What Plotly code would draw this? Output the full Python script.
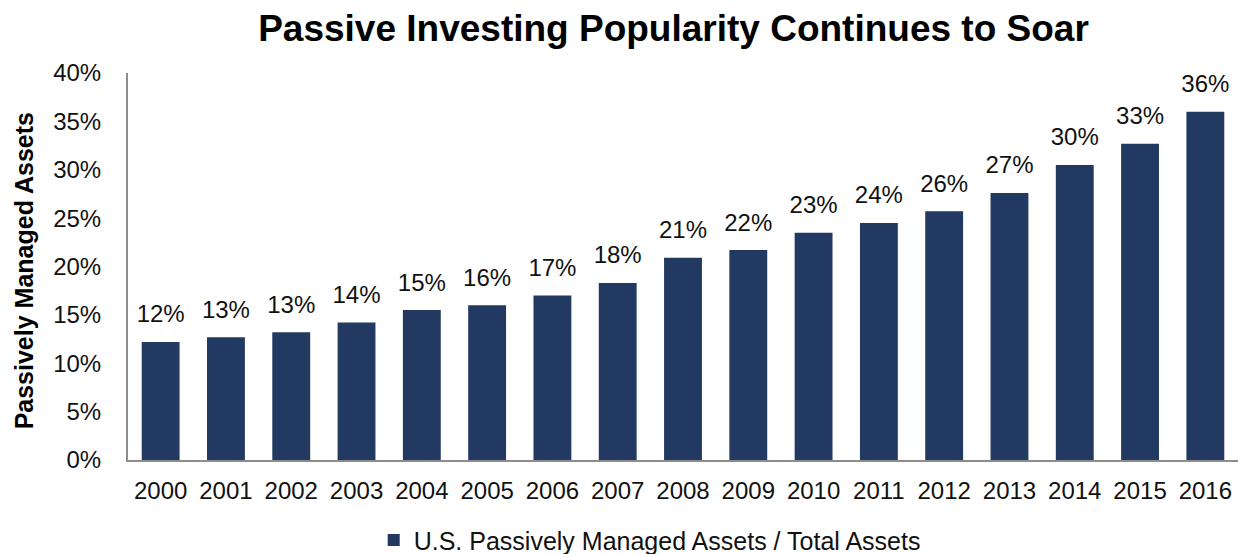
import plotly.graph_objects as go

years = [str(y) for y in range(2000, 2017)]
values = [12.2, 12.7, 13.2, 14.2, 15.5, 16.0, 17.0, 18.3, 20.9, 21.7, 23.5, 24.5, 25.7, 27.6, 30.5, 32.7, 36.0]
labels = ["12%", "13%", "13%", "14%", "15%", "16%", "17%", "18%", "21%", "22%", "23%", "24%", "26%", "27%", "30%", "33%", "36%"]
y_ticks = [0, 5, 10, 15, 20, 25, 30, 35, 40]
y_tick_text = ["0%", "5%", "10%", "15%", "20%", "25%", "30%", "35%", "40%"]

BAR = "#223962"
FONT = "Liberation Sans, Arial, sans-serif"

fig = go.Figure()
fig.add_trace(go.Bar(
    x=years, y=values, marker=dict(color=BAR, line=dict(width=0)),
    name="U.S. Passively Managed Assets / Total Assets",
))
fig.add_trace(go.Scatter(
    x=years, y=values, mode="markers+text", text=labels,
    textposition="top center",
    marker=dict(size=20, opacity=0),
    textfont=dict(size=24, color="#111111", family=FONT),
    showlegend=False, hoverinfo="skip", cliponaxis=False,
))

fig.update_layout(
    width=1238, height=554,
    margin=dict(l=128, r=0, t=73, b=94, autoexpand=False),
    paper_bgcolor="white", plot_bgcolor="white",
    bargap=0.42,
    font=dict(family=FONT, color="#111111"),
    title=dict(text="<b>Passive Investing Popularity Continues to Soar</b>",
               x=0.544, xanchor="center", xref="container",
               y=0.95, yanchor="middle", yref="container",
               font=dict(size=37, color="#000000", family=FONT)),
    xaxis=dict(showgrid=False, showline=True, linecolor="#8c8c8c", linewidth=2,
               range=[-0.5, 16.5], autorange=False, automargin=False,
               ticks="", tickfont=dict(size=24, color="#111111"),
               ticklabelstandoff=8, zeroline=False),
    yaxis=dict(range=[0, 40], tickvals=y_ticks, ticktext=y_tick_text,
               showgrid=False, showline=True, linecolor="#8c8c8c", linewidth=2,
               automargin=False,
               ticks="", tickfont=dict(size=24, color="#111111"),
               ticklabelstandoff=20, zeroline=False),
    legend=dict(orientation="h", x=0.47, xanchor="center",
                y=0.025, yref="container", yanchor="middle",
                font=dict(size=25, color="#111111"), itemwidth=30),
    showlegend=True,
    annotations=[dict(text="<b>Passively Managed Assets</b>", textangle=-90,
                      xref="paper", yref="paper", x=-0.0937, y=0.49,
                      xanchor="center", yanchor="middle", showarrow=False,
                      font=dict(size=25, color="#000000", family=FONT))],
)

fig.write_html("out.html")
